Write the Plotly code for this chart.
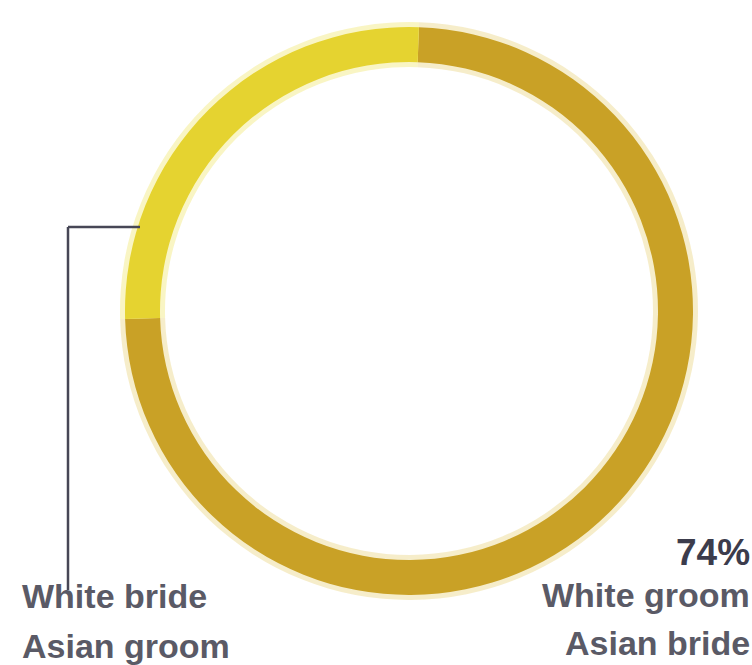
import plotly.graph_objects as go

# Share of couples by pairing
labels = ["White groom<br>Asian bride", "White bride<br>Asian groom"]
values = [74, 26]
colors = ["#C9A126", "#E5D330"]
halo_colors = ["rgba(226,196,80,0.30)", "rgba(240,230,100,0.38)"]

W, H = 752, 665
CX, CY = 409, 311          # ring centre (px, from top-left)
R_OUT, R_IN = 284, 249     # ring radii (px)
HALO = 5                   # soft glow around ring (px)
ROT = 2                    # start angle of first slice (deg, clockwise from 12 o'clock)


def dom(r):
    return dict(x=[(CX - r) / W, (CX + r) / W],
                y=[(H - CY - r) / H, (H - CY + r) / H])


fig = go.Figure()

# faint glow behind the ring
fig.add_trace(go.Pie(
    values=values, labels=labels, sort=False, direction="clockwise",
    rotation=ROT, hole=(R_IN - HALO) / (R_OUT + HALO),
    domain=dom(R_OUT + HALO), marker=dict(colors=halo_colors, line=dict(width=0)),
    textinfo="none", hoverinfo="skip", showlegend=False,
))

# the ring itself
fig.add_trace(go.Pie(
    values=values, labels=labels, sort=False, direction="clockwise",
    rotation=ROT, hole=R_IN / R_OUT,
    domain=dom(R_OUT), marker=dict(colors=colors, line=dict(width=0)),
    textinfo="none", hoverinfo="skip", showlegend=False,
))

def px(x):
    return x / W

def py(y):
    return 1 - y / H

# leader line for the smaller slice
LINE = "#474756"
lead_y, lead_x0, lead_x1, lead_bottom = 227, 140, 68, 590
fig.add_shape(type="line", xref="paper", yref="paper",
              x0=px(lead_x0), y0=py(lead_y), x1=px(lead_x1), y1=py(lead_y),
              line=dict(color=LINE, width=2.5))
fig.add_shape(type="line", xref="paper", yref="paper",
              x0=px(lead_x1), y0=py(lead_y), x1=px(lead_x1), y1=py(lead_bottom),
              line=dict(color=LINE, width=2.5))

FONT = "Liberation Sans, Arial, sans-serif"
TXT = "#5A5A66"


def note(text, x, y, anchor, size, color, bold=True):
    fig.add_annotation(
        text=f"<b>{text}</b>" if bold else text,
        xref="paper", yref="paper", x=px(x), y=py(y),
        xanchor=anchor, yanchor="middle", showarrow=False,
        font=dict(family=FONT, size=size, color=color),
    )


left_lines = labels[1].split("<br>")
right_lines = labels[0].split("<br>")

note(left_lines[0], 20, 596, "left", 34, TXT)
note(left_lines[1], 20, 646, "left", 34, TXT)

note(f"{values[0]}%", 752, 552, "right", 37, "#3C3C4C")
note(right_lines[0], 752, 595, "right", 34, TXT)
note(right_lines[1], 752, 643, "right", 34, TXT)

fig.update_layout(
    width=W, height=H,
    margin=dict(l=0, r=0, t=0, b=0),
    paper_bgcolor="white", plot_bgcolor="white",
    showlegend=False,
)

fig.write_html("out.html")
